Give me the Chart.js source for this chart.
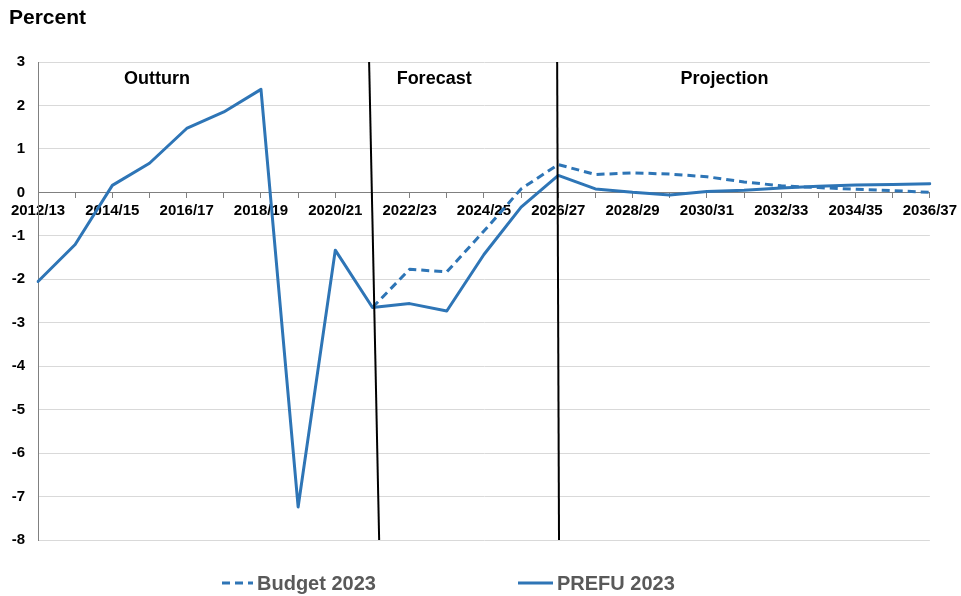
<!DOCTYPE html>
<html lang="en">
<head>
  <meta charset="UTF-8">
  <title>Percent</title>
  <style>
    body { margin: 0; background: #fff; }
    canvas { display: block; }
  </style>
</head>
<body>
  <canvas id="chart" width="961" height="596"></canvas>

  <script src="https://cdn.jsdelivr.net/npm/chart.js"></script>
  <script>
    const years = ['2012/13', '2013/14', '2014/15', '2015/16', '2016/17', '2017/18', '2018/19',
      '2019/20', '2020/21', '2021/22', '2022/23', '2023/24', '2024/25', '2025/26', '2026/27',
      '2027/28', '2028/29', '2029/30', '2030/31', '2031/32', '2032/33', '2033/34', '2034/35',
      '2035/36', '2036/37'];

    const prefu2023 = [-2.05, -1.2, 0.16, 0.67, 1.47, 1.85, 2.37, -7.24, -1.33, -2.65,
      -2.56, -2.73, -1.43, -0.34, 0.39, 0.08, 0.0, -0.06, 0.02, 0.05, 0.1, 0.14, 0.17, 0.18, 0.2];

    const budget2023 = [null, null, null, null, null, null, null, null, null, -2.65,
      -1.77, -1.83, -0.89, 0.08, 0.64, 0.41, 0.45, 0.42, 0.36, 0.24, 0.15, 0.11, 0.07, 0.04, 0.0];

    const sections = ['Outturn', 'Forecast', 'Projection'];

    const blue = '#2e75b6';
    const font = 'Arial, "Liberation Sans", sans-serif';

    // extra drawing: title, phase dividers, phase labels, legend
    const extras = {
      id: 'extras',
      afterDraw(chart) {
        const ctx = chart.ctx;
        const x = chart.scales.x;
        const y = chart.scales.y;
        const area = chart.chartArea;
        ctx.save();

        ctx.fillStyle = '#000';
        ctx.font = 'bold 21px ' + font;
        ctx.textAlign = 'left';
        ctx.textBaseline = 'middle';
        ctx.fillText('Percent', 9, 18);

        // divider lines (slightly slanted like the original)
        ctx.strokeStyle = '#000';
        ctx.lineWidth = 2;
        [[8.91, 9.18], [13.97, 14.02]].forEach(function (d) {
          ctx.beginPath();
          ctx.moveTo(x.getPixelForValue(d[0]), area.top);
          ctx.lineTo(x.getPixelForValue(d[1]), area.bottom);
          ctx.stroke();
        });

        ctx.font = 'bold 18px ' + font;
        ctx.textAlign = 'center';
        const labelAt = [3.2, 10.66, 18.47];
        sections.forEach(function (s, i) {
          ctx.fillText(s, x.getPixelForValue(labelAt[i]), y.getPixelForValue(2.6));
        });

        // legend
        const ly = 583;
        const items = [
          { ds: chart.data.datasets[0], x0: 222, x1: 253 },
          { ds: chart.data.datasets[1], x0: 518, x1: 553 }
        ];
        ctx.font = 'bold 20px ' + font;
        ctx.textAlign = 'left';
        items.forEach(function (it) {
          ctx.strokeStyle = it.ds.borderColor;
          ctx.lineWidth = 3;
          ctx.setLineDash(it.ds.borderDash || []);
          ctx.beginPath();
          ctx.moveTo(it.x0, ly);
          ctx.lineTo(it.x1, ly);
          ctx.stroke();
          ctx.setLineDash([]);
          ctx.fillStyle = '#595959';
          ctx.fillText(it.ds.label, it.x1 + 4, ly + 1);
        });

        ctx.restore();
      }
    };

    new Chart(document.getElementById('chart'), {
      type: 'line',
      data: {
        labels: years,
        datasets: [
          {
            label: 'Budget 2023',
            data: budget2023,
            borderColor: blue,
            borderWidth: 3,
            borderDash: [8, 5],
            borderJoinStyle: 'round',
            pointRadius: 0,
            fill: false,
            tension: 0
          },
          {
            label: 'PREFU 2023',
            data: prefu2023,
            borderColor: blue,
            borderWidth: 3,
            borderJoinStyle: 'round',
            borderCapStyle: 'round',
            pointRadius: 0,
            fill: false,
            tension: 0
          }
        ]
      },
      options: {
        responsive: false,
        animation: false,
        layout: { padding: { left: 0, right: 26, top: 62, bottom: 56 } },
        plugins: {
          legend: { display: false },
          tooltip: { enabled: false }
        },
        scales: {
          x: {
            position: { y: 0 },
            offset: false,
            grid: {
              drawOnChartArea: false,
              drawTicks: true,
              tickLength: 5,
              color: '#808080'
            },
            border: { color: '#808080', width: 1 },
            ticks: {
              autoSkip: false,
              maxRotation: 0,
              padding: 4,
              color: '#000',
              font: { family: font, size: 15, weight: 'bold' },
              callback: function (v, i) { return i % 2 === 0 ? years[i] : ''; }
            }
          },
          y: {
            min: -8,
            max: 3,
            afterFit: function (s) { s.width = 38; },
            grid: {
              color: '#d9d9d9',
              drawTicks: false
            },
            border: { color: '#808080', width: 1 },
            ticks: {
              stepSize: 1,
              padding: 13,
              color: '#000',
              font: { family: font, size: 15, weight: 'bold' }
            }
          }
        }
      },
      plugins: [extras]
    });
  </script>
</body>
</html>
